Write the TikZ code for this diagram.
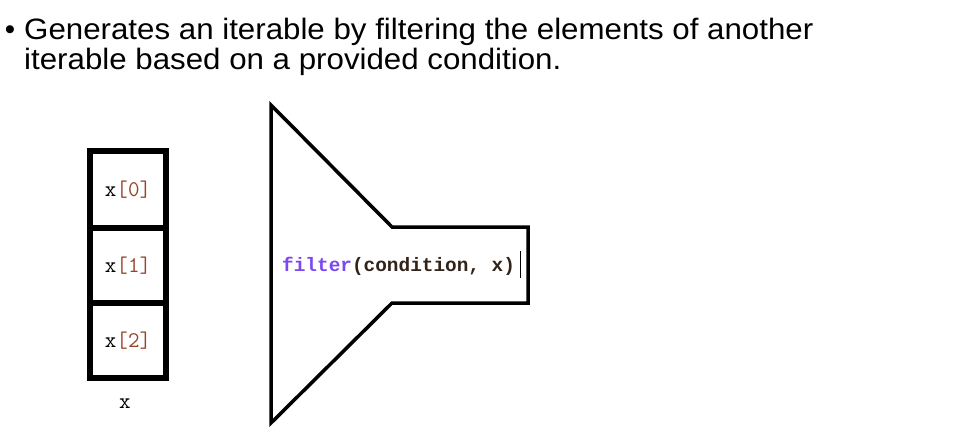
\documentclass[tikz,border=0pt]{standalone}
\usepackage{fontspec}
\setmainfont{Liberation Sans}
\newfontfamily\codefont{Liberation Mono}
\definecolor{kwpurple}{RGB}{124,72,240}
\definecolor{numbrown}{RGB}{150,70,40}
\definecolor{codedark}{RGB}{50,35,25}
\begin{document}
\begin{tikzpicture}[x=1pt,y=-1pt,
  cell/.style={draw=black,line width=6pt,minimum width=76pt,minimum height=76pt,inner sep=0pt,font=\ttfamily\fontsize{22.4pt}{24pt}\selectfont},
  funnel/.style={draw=black,line width=3.5pt,line join=miter},
  title/.style={anchor=base west,inner sep=0pt,xscale=1.06,font=\fontsize{29.5pt}{30pt}\selectfont}]
\useasboundingbox (0,0) rectangle (972,434);
% title
\node[anchor=base,inner sep=0pt,font=\fontsize{29.5pt}{30pt}\selectfont] (bul) at (10,39.5) {•};
\node[title] (l1) at (24,39.5) {Generates an iterable by filtering the elements of another};
\node[title] (l2) at (24,69) {iterable based on a provided condition.};
% array boxes
\node[cell,minimum height=77pt] (c0) at (128,189.5) {x\textcolor{numbrown}{[0]}};
\node[cell,minimum height=75pt] (c1) at (128,265.5) {x\textcolor{numbrown}{[1]}};
\node[cell,minimum height=75pt] (c2) at (128,340.5) {x\textcolor{numbrown}{[2]}};
\node[inner sep=0pt,font=\ttfamily\fontsize{22.4pt}{24pt}\selectfont] (xl) at (125,404) {x};
% funnel
\draw[funnel] (271,105) -- (392,227) -- (528,227) -- (528,303) -- (392,303) -- (271,423) -- cycle;
\node[anchor=base west,inner sep=0pt,font=\codefont\bfseries\fontsize{19.4pt}{20pt}\selectfont,text=codedark] (call) at (282,271)
  {\textcolor{kwpurple}{filter}(condition, x)};
\coordinate (ctop) at (520,251);
\coordinate (cbot) at (520,278);
\draw[line width=1pt,black] (ctop) -- (cbot);
\end{tikzpicture}
\end{document}
